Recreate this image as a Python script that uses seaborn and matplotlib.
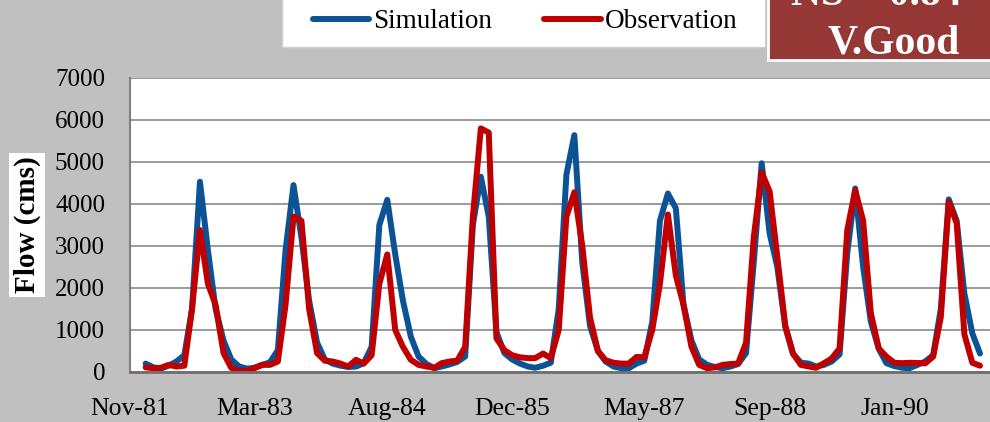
import matplotlib.pyplot as plt
import matplotlib.patches as mpatches
import seaborn as sns
import pandas as pd

sns.set_theme(style="whitegrid")
plt.rcParams['font.family'] = ['Liberation Serif', 'DejaVu Serif']
plt.rcParams.update({'text.color': 'black', 'axes.labelcolor': 'black',
                     'xtick.color': 'black', 'ytick.color': 'black',
                     'lines.solid_capstyle': 'round', 'lines.solid_joinstyle': 'round'})

# Caudal mensual (cms), enero 1982 - diciembre 1990
simulation = [200, 110, 80, 150, 250, 400, 1500, 4530, 2900, 1500, 750, 300,
              130, 80, 100, 170, 230, 520, 2900, 4450, 3200, 1700, 700, 300,
              200, 150, 120, 130, 210, 600, 3500, 4100, 2800, 1700, 840, 370,
              190, 90, 130, 180, 240, 370, 3500, 4650, 3700, 950, 450, 300,
              200, 130, 100, 150, 220, 1500, 4700, 5640, 2600, 1100, 500, 250,
              130, 90, 90, 200, 270, 1200, 3600, 4250, 3900, 1600, 750, 300,
              170, 120, 90, 130, 190, 450, 2600, 4970, 3300, 2500, 1080, 440,
              220, 200, 130, 170, 250, 420, 2830, 4370, 2500, 1200, 550, 210,
              140, 100, 90, 170, 250, 400, 1500, 4110, 3600, 1870, 920, 440]
observation = [110, 90, 100, 170, 130, 150, 1500, 3380, 2100, 1600, 450, 100,
               30, 30, 90, 170, 170, 250, 1600, 3700, 3600, 1500, 450, 270,
               250, 200, 130, 290, 200, 400, 2100, 2800, 1000, 600, 290, 170,
               130, 100, 210, 250, 270, 600, 3700, 5800, 5700, 800, 520, 400,
               350, 330, 330, 440, 330, 1000, 3700, 4280, 3000, 1300, 500, 280,
               220, 200, 200, 360, 350, 1000, 2100, 3750, 2300, 1600, 600, 170,
               90, 110, 170, 190, 200, 700, 3200, 4750, 4300, 2750, 1100, 440,
               170, 130, 100, 210, 320, 560, 3380, 4330, 3600, 1400, 560, 365,
               220, 210, 220, 215, 205, 365, 1300, 4050, 3540, 900, 220, 150]
tick_labels = ['Nov-81', 'Mar-83', 'Aug-84', 'Dec-85', 'May-87', 'Sep-88', 'Jan-90']
y_ticks = [0, 1000, 2000, 3000, 4000, 5000, 6000, 7000]

months = pd.date_range('1982-01-01', periods=len(simulation), freq='MS')
df = pd.DataFrame({'Mes': months, 'Simulation': simulation, 'Observation': observation})

fig = plt.figure(figsize=(9.9, 4.22), dpi=100)
fig.patch.set_facecolor('#c0c0c0')
ax = fig.add_axes([130 / 990, 50 / 422, 860 / 990, 294 / 422])
ax.set_facecolor('white')

sns.lineplot(data=df, x='Mes', y='Simulation', color='#0b5394', lw=4.3, label='Simulation', ax=ax)
sns.lineplot(data=df, x='Mes', y='Observation', color='#c00000', lw=4.3, label='Observation', ax=ax)

ax.set_xlim(pd.Timestamp('1981-11-01'), pd.Timestamp('1991-01-09'))
ax.set_xticks(pd.to_datetime(tick_labels, format='%b-%y'))
ax.set_xticklabels(tick_labels)
ax.set_ylim(0, 7000)
ax.set_yticks(y_ticks)
ax.tick_params(axis='y', length=0, pad=18, labelsize=18)
ax.tick_params(axis='x', length=0, pad=19, labelsize=18.5)
ax.grid(axis='x', visible=False)
ax.grid(axis='y', color='#8a8a8a', lw=1.2)
for s in ['top', 'right']:
    ax.spines[s].set_visible(False)
ax.spines['left'].set_color('#7f7f7f')
ax.spines['left'].set_linewidth(1.5)
ax.spines['bottom'].set_color('#6e6e6e')
ax.spines['bottom'].set_linewidth(2)

ax.set_xlabel('')
ax.set_ylabel('Flow (cms)', fontsize=21, fontweight='bold',
              bbox=dict(facecolor='white', edgecolor='none', pad=3))
ax.yaxis.set_label_coords(-0.104, 0.5)

# Leyenda en caja blanca arriba
handles, labels = ax.get_legend_handles_labels()
ax.get_legend().remove()
fig.add_artist(mpatches.Rectangle((282 / 990, 1 - 47 / 422), (765 - 282) / 990, 0.2,
                                  transform=fig.transFigure, facecolor='white',
                                  edgecolor='#d0d0d0', lw=1))
fig.legend(handles, labels, loc='center', bbox_to_anchor=(525 / 990, 1 - 22 / 422), ncol=2,
           frameon=False, fontsize=19.5, handlelength=2.1, handletextpad=0.15, columnspacing=1.9)

# Caja NS
fig.add_artist(mpatches.Rectangle((768 / 990, 1 - 60 / 422), 0.3, 0.2,
                                  transform=fig.transFigure, facecolor='#953735',
                                  edgecolor='white', lw=2))
fig.text(876 / 990, 1 - 5 / 422, 'NS = 0.84', ha='center', va='baseline',
         fontsize=30, fontweight='bold', color='white')
fig.text(894 / 990, 1 - 53 / 422, 'V.Good', ha='center', va='baseline',
         fontsize=30, fontweight='bold', color='white')

fig.savefig('out.png', dpi=100, facecolor=fig.get_facecolor())
